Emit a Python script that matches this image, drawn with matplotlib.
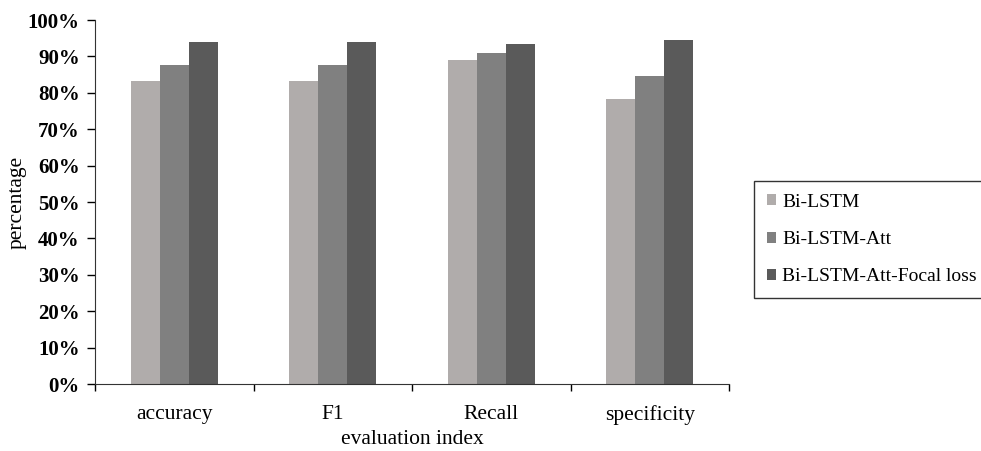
import matplotlib
matplotlib.use("Agg")
import matplotlib.pyplot as plt
import numpy as np
from matplotlib.ticker import FuncFormatter

categories = ["accuracy", "F1", "Recall", "specificity"]
series_names = ["Bi-LSTM", "Bi-LSTM-Att", "Bi-LSTM-Att-Focal loss"]
bilstm = [83.2, 83.2, 89.1, 78.4]
bilstm_att = [87.6, 87.6, 91.0, 84.7]
bilstm_att_focal = [94.0, 94.0, 93.5, 94.4]
colors = ["#b0acab", "#808080", "#5a5a5a"]

plt.rcParams['font.family'] = ['Liberation Serif', 'DejaVu Serif']
FS = 15.5

fig = plt.figure(figsize=(9.81, 4.51), dpi=100)
ax = fig.add_axes([95/981, 1-384/451, (729-95)/981, (384-20)/451])

x = np.arange(len(categories))
w = 0.184
for i, (vals, name) in enumerate(zip([bilstm, bilstm_att, bilstm_att_focal], series_names)):
    ax.bar(x + (i-1)*w, vals, w, color=colors[i], label=name, edgecolor='none')

ax.set_xlim(-0.5, 3.5)
ax.set_ylim(0, 100)
ax.set_yticks(np.arange(0, 101, 10))
ax.yaxis.set_major_formatter(FuncFormatter(lambda v, p: f"{int(v)}%"))
ax.set_xticks(x)
ax.set_xticklabels(categories)
ax.set_xticks(np.arange(-0.5, 4.0, 1.0), minor=True)
ax.tick_params(axis='x', which='major', length=0, pad=15, labelsize=FS)
ax.tick_params(axis='x', which='minor', length=5, direction='out', width=1)
ax.tick_params(axis='y', length=6, direction='out', width=1, labelsize=15, pad=5)
for lab in ax.get_yticklabels():
    lab.set_fontweight('bold')
ax.spines['top'].set_visible(False)
ax.spines['right'].set_visible(False)
ax.spines['left'].set_color('#333333')
ax.spines['bottom'].set_color('#333333')
ax.set_xlabel("evaluation index", fontsize=FS, labelpad=4)
ax.set_ylabel("percentage", fontsize=FS)
ax.yaxis.set_label_coords((27-95)/634, 0.5)

leg = fig.legend(loc='upper left', bbox_to_anchor=(754/981, 1-181/451), frameon=True,
                 fontsize=14, handlelength=0.5, handleheight=0.5, handletextpad=0.3,
                 labelspacing=1.05, borderpad=0.65, borderaxespad=0, fancybox=False)
leg.get_frame().set_edgecolor('black')
leg.get_frame().set_linewidth(1)

fig.savefig("out.png", dpi=100)
